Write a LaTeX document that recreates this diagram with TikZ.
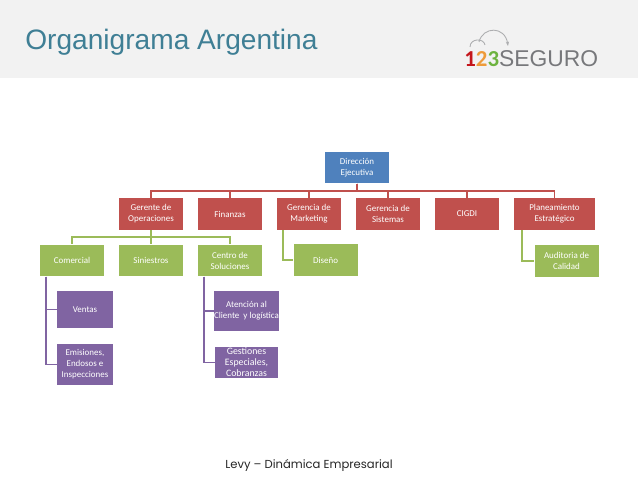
\documentclass[tikz,border=0pt]{standalone}
\usepackage{fontspec}
\setmainfont{Carlito}
\newfontfamily\titlefont{Liberation Sans}
\newfontfamily\footfont{Poppins}
\usepackage{xcolor}
\usetikzlibrary{arrows.meta,positioning,calc}

\definecolor{headgray}{HTML}{F2F2F2}
\definecolor{titleteal}{HTML}{3F7F95}
\definecolor{boxblue}{HTML}{4F81BD}
\definecolor{boxred}{HTML}{C0504D}
\definecolor{boxgreen}{HTML}{9BBB59}
\definecolor{boxpurple}{HTML}{8064A2}
\definecolor{logored}{HTML}{C4161C}
\definecolor{logoorange}{HTML}{EE9B3A}
\definecolor{logogreen}{HTML}{6DB33F}
\definecolor{logogray}{HTML}{77787B}

\begin{document}
\begin{tikzpicture}[
  x=0.02cm, y=-0.02cm,
  every node/.style={font=\fontsize{5.1}{6.2}\selectfont},
  orgbox/.style={text=white, align=center, inner sep=0pt,
    minimum width=1.28cm, minimum height=0.63cm},
  bluebox/.style={orgbox, fill=boxblue},
  redbox/.style={orgbox, fill=boxred},
  greenbox/.style={orgbox, fill=boxgreen},
  purplebox/.style={orgbox, fill=boxpurple, minimum width=1.26cm},
  redlink/.style={draw=boxred, line width=1.1pt},
  greenlink/.style={draw=boxgreen, line width=1.1pt},
  purplelink/.style={draw=boxpurple, line width=1.1pt},
]
\useasboundingbox (0,0) rectangle (638,479);

%% ── Header ───────────────────────────────────────────────────────────────────
\fill[headgray] (0,0) rectangle (638,78);
\node[font=\titlefont\fontsize{16}{18}\selectfont, text=titleteal, anchor=west,
      inner sep=0pt] (title) at (25,42) {Organigrama Argentina};

%% Logo
\draw[logogray!60, line width=0.5pt] (470,47) .. controls (470,38) and (484,38) .. (485,45);
\draw[logogray!60, line width=0.5pt, -{Stealth[length=2.5pt]}]
  (479,42) .. controls (483,26) and (505,26) .. (508,46);
\node[font=\fontsize{13}{15}\selectfont\bfseries, anchor=west, inner sep=0pt] (logo) at (464,59)
  {\textcolor{logored}{1}\textcolor{logoorange}{2}\textcolor{logogreen}{3}%
   \textcolor{logogray}{\mdseries\titlefont SEGURO}};

%% ── Top level ────────────────────────────────────────────────────────────────
\node[bluebox] (dir) at (357,167.5) {Dirección\\Ejecutiva};

%% ── Red row ──────────────────────────────────────────────────────────────────
\node[redbox] (ger) at (151,214) {Gerente de\\Operaciones};
\node[redbox] (fin) at (230,214) {Finanzas};
\node[redbox] (mkt) at (309,214) {Gerencia de\\Marketing};
\node[redbox] (sis) at (388,214) {Gerencia de\\Sistemas};
\node[redbox] (cig) at (467,214) {CIGDI};
\node[redbox, minimum width=1.62cm] (pla) at (554.5,214) {Planeamiento\\Estratégico};

%% ── Green row ────────────────────────────────────────────────────────────────
\node[greenbox] (com) at (72,260.5) {Comercial};
\node[greenbox] (sin) at (151,260.5) {Siniestros};
\node[greenbox] (cen) at (230,260.5) {Centro de\\Soluciones};
\node[greenbox] (dis) at (325.5,260) {Diseño};
\node[greenbox] (aud) at (566.5,261) {Auditoria de\\Calidad};

%% ── Purple boxes ─────────────────────────────────────────────────────────────
\node[purplebox, minimum width=1.12cm, minimum height=0.74cm] (ven) at (85,309.5) {Ventas};
\node[purplebox, minimum width=1.12cm, minimum height=0.82cm] (emi) at (85,364.5)
  {Emisiones,\\Endosos e\\Inspecciones};
\node[purplebox, minimum height=0.80cm] (ate) at (246.5,311) {Atención al\\Cliente\ \ y logística};
\node[purplebox, minimum height=0.62cm, font=\fontsize{5.6}{6.3}\selectfont] (ges) at (246.5,362.5)
  {Gestiones\\Especiales,\\Cobranzas};

%% ── Connectors ───────────────────────────────────────────────────────────────
\coordinate (dirbus) at (357,191);
\coordinate (gerbus) at (151,237);

\foreach \n in {ger,fin,mkt,sis,cig,pla}
  \draw[redlink] (dir.south) -- (dirbus) -| (\n.north);

\foreach \n in {com,sin,cen}
  \draw[greenlink] (ger.south) -- (gerbus) -| (\n.north);

\draw[greenlink] (mkt.south west) ++(6,0) |- (dis.west);
\draw[greenlink] (pla.south west) ++(8,0) |- (aud.west);

\foreach \n in {ven,emi}
  \draw[purplelink] (com.south west) ++(6,0) |- (\n.west);
\foreach \n in {ate,ges}
  \draw[purplelink] (cen.south west) ++(6,0) |- (\n.west);

%% ── Footer ───────────────────────────────────────────────────────────────────
\node[font=\footfont\fontsize{6.6}{8}\selectfont, text=black!85, inner sep=0pt] (foot) at (309,465)
  {Levy – Dinámica Empresarial};

\end{tikzpicture}
\end{document}
